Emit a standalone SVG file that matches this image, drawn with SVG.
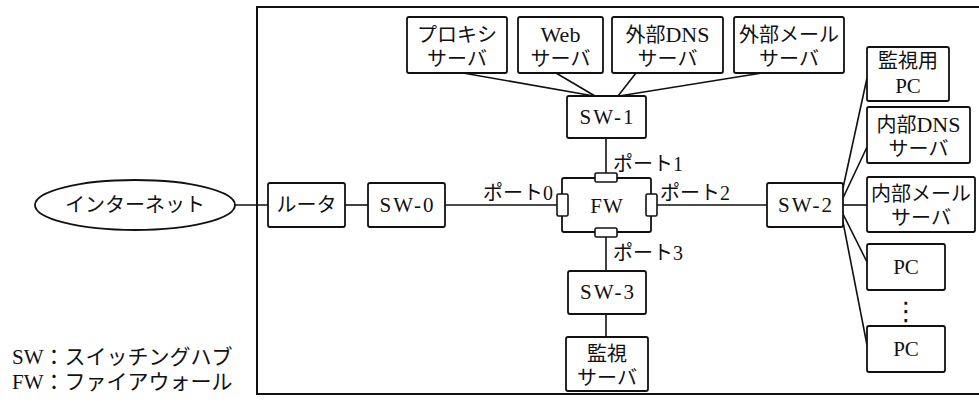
<svg xmlns="http://www.w3.org/2000/svg" width="979" height="403" viewBox="0 0 979 403">
<style>
  .bx { fill: #fff; stroke: #111; stroke-width: 1.8; }
  .pt { fill: #fff; stroke: #111; stroke-width: 1.6; }
  .ln { stroke: #111; stroke-width: 1.6; fill: none; }
  text { font-family: "Liberation Serif", "Noto Sans CJK JP", serif; font-size: 20px; fill: #111; }
  .c { text-anchor: middle; }
  .sw { letter-spacing: 2px; font-size: 21px; }
</style>
<rect x="257" y="7" width="730" height="387" fill="none" stroke="#111" stroke-width="2"/>
<g id="connectors">
  <line class="ln" x1="235" y1="205" x2="268" y2="205"/>
  <line class="ln" x1="345" y1="205" x2="368" y2="205"/>
  <line class="ln" x1="445" y1="205" x2="557" y2="205"/>
  <line class="ln" x1="657" y1="205" x2="767" y2="205"/>
  <line class="ln" x1="606" y1="138" x2="606" y2="173"/>
  <line class="ln" x1="606" y1="237" x2="606" y2="271"/>
  <line class="ln" x1="606" y1="314" x2="606" y2="337"/>
  <line class="ln" x1="463" y1="73" x2="594" y2="96"/>
  <line class="ln" x1="556" y1="73" x2="595" y2="96"/>
  <line class="ln" x1="636" y1="73" x2="618" y2="96"/>
  <line class="ln" x1="762" y1="73" x2="619" y2="96"/>
  <line class="ln" x1="843" y1="188" x2="867" y2="78"/>
  <line class="ln" x1="843" y1="198" x2="867" y2="147"/>
  <line class="ln" x1="843" y1="205" x2="867" y2="205"/>
  <line class="ln" x1="843" y1="214" x2="867" y2="262"/>
  <line class="ln" x1="843" y1="222" x2="867" y2="345"/>
</g>
<g id="internet">
  <ellipse cx="135" cy="205" rx="100" ry="25" class="bx"/>
  <text x="135" y="212" class="c">インターネット</text>
</g>
<g id="router">
  <rect x="268" y="183" width="77" height="44" rx="2" class="bx"/>
  <text x="306.5" y="212" class="c">ルータ</text>
</g>
<g id="sw0">
  <rect x="368" y="183" width="77" height="44" rx="2" class="bx"/>
  <text x="407.5" y="212" class="c sw">SW-0</text>
</g>
<g id="proxy">
  <rect x="407" y="17" width="100" height="56" rx="2" class="bx"/>
  <text x="457" y="42" class="c">プロキシ</text>
  <text x="457" y="66" class="c">サーバ</text>
</g>
<g id="web">
  <rect x="518" y="17" width="85" height="56" rx="2" class="bx"/>
  <text x="560.5" y="42" class="c" style="font-size:22px">Web</text>
  <text x="560.5" y="66" class="c">サーバ</text>
</g>
<g id="extdns">
  <rect x="612" y="17" width="111" height="56" rx="2" class="bx"/>
  <text x="667.5" y="42" class="c">外部<tspan style="font-size:22px">DNS</tspan></text>
  <text x="667.5" y="66" class="c">サーバ</text>
</g>
<g id="extmail">
  <rect x="734" y="17" width="110" height="56" rx="2" class="bx"/>
  <text x="789" y="42" class="c">外部メール</text>
  <text x="789" y="66" class="c">サーバ</text>
</g>
<g id="sw1">
  <rect x="567" y="96" width="79" height="42" rx="2" class="bx"/>
  <text x="607.5" y="124" class="c sw">SW-1</text>
</g>
<g id="fw">
  <rect x="562" y="178" width="89" height="54" rx="2" class="bx"/>
  <rect x="595" y="173" width="22" height="9" rx="1.5" class="pt"/>
  <rect x="595" y="228" width="22" height="9" rx="1.5" class="pt"/>
  <rect x="557" y="194" width="11" height="22" rx="1.5" class="pt"/>
  <rect x="646" y="194" width="11" height="22" rx="1.5" class="pt"/>
  <text x="607" y="213" class="c" style="font-size:21px;letter-spacing:1px">FW</text>
  <text x="553" y="200" style="text-anchor:end">ポート0</text>
  <text x="613" y="171">ポート1</text>
  <text x="660" y="200">ポート2</text>
  <text x="613" y="260">ポート3</text>
</g>
<g id="sw2">
  <rect x="767" y="183" width="76" height="44" rx="2" class="bx"/>
  <text x="806" y="212" class="c sw">SW-2</text>
</g>
<g id="sw3">
  <rect x="568" y="271" width="78" height="43" rx="2" class="bx"/>
  <text x="608" y="299" class="c sw">SW-3</text>
</g>
<g id="monserver">
  <rect x="566" y="337" width="82" height="54" rx="2" class="bx"/>
  <text x="607" y="361" class="c">監視</text>
  <text x="607" y="385" class="c">サーバ</text>
</g>
<g id="monpc">
  <rect x="867" y="47" width="82" height="54" rx="2" class="bx"/>
  <text x="908" y="68" class="c">監視用</text>
  <text x="908" y="93" class="c" style="font-size:21px">PC</text>
</g>
<g id="intdns">
  <rect x="867" y="107" width="103" height="56" rx="2" class="bx"/>
  <text x="918.5" y="132" class="c">内部<tspan style="font-size:22px">DNS</tspan></text>
  <text x="918.5" y="156" class="c">サーバ</text>
</g>
<g id="intmail">
  <rect x="867" y="177" width="108" height="55" rx="2" class="bx"/>
  <text x="921" y="201" class="c">内部メール</text>
  <text x="921" y="225" class="c">サーバ</text>
</g>
<g id="pc1">
  <rect x="867" y="244" width="78" height="46" rx="2" class="bx"/>
  <text x="906" y="274" class="c" style="font-size:21px">PC</text>
</g>
<text x="906" y="320" class="c" style="font-family:'DejaVu Sans', sans-serif;font-size:26px">⋮</text>
<g id="pc2">
  <rect x="867" y="326" width="78" height="46" rx="2" class="bx"/>
  <text x="906" y="356" class="c" style="font-size:21px">PC</text>
</g>
<g id="legend">
  <text x="12" y="364" style="font-size:21px">SW：スイッチングハブ</text>
  <text x="12" y="389" style="font-size:21px">FW：ファイアウォール</text>
</g>
</svg>
